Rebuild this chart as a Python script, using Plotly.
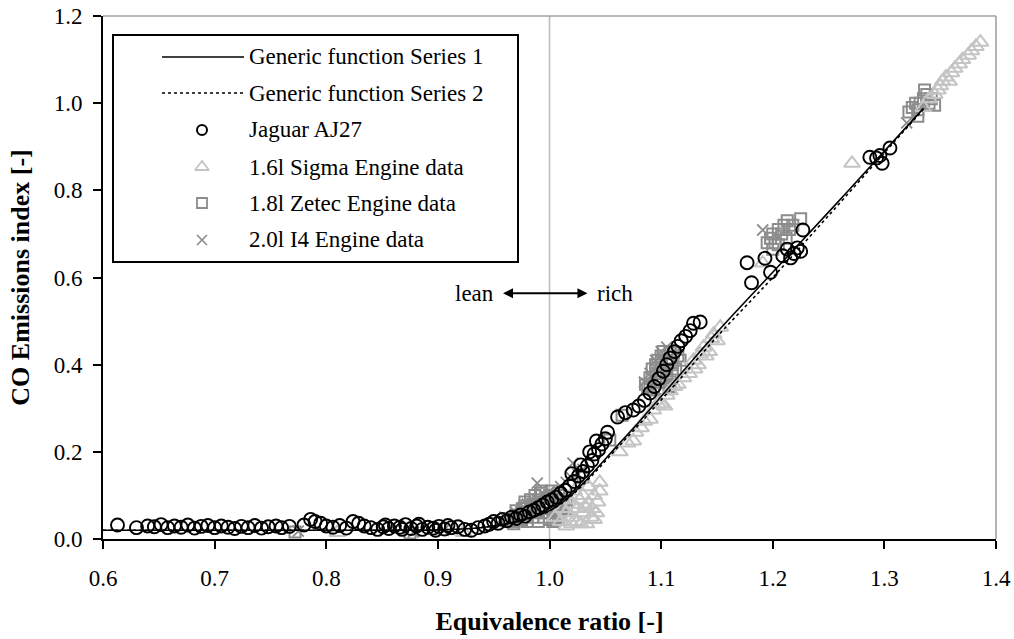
import plotly.graph_objects as go

# ---------------- data ----------------
line_phi = [0.60, 0.65, 0.70, 0.75, 0.80, 0.85, 0.90, 0.93, 0.95, 0.97, 0.98, 0.99, 1.00,
            1.02, 1.04, 1.06, 1.08, 1.10, 1.12, 1.15, 1.20, 1.25, 1.30, 1.335]
series1 = [0.020, 0.020, 0.020, 0.020, 0.020, 0.020, 0.021, 0.024, 0.030, 0.040, 0.047, 0.055, 0.065,
           0.102, 0.155, 0.212, 0.268, 0.327, 0.386, 0.474, 0.612, 0.750, 0.890, 0.988]
series2 = [0.020, 0.020, 0.020, 0.020, 0.020, 0.020, 0.021, 0.024, 0.030, 0.039, 0.046, 0.054, 0.064,
           0.100, 0.151, 0.207, 0.262, 0.319, 0.376, 0.464, 0.600, 0.742, 0.886, 0.986]

jag_phi = [0.613, 0.630, 0.640, 0.646, 0.652, 0.658, 0.664, 0.670, 0.676, 0.682, 0.688, 0.694, 0.700,
           0.706, 0.712, 0.718, 0.724, 0.730, 0.736, 0.742, 0.748, 0.755, 0.760, 0.767, 0.780, 0.786,
           0.790, 0.795, 0.800, 0.806, 0.812, 0.818, 0.824, 0.829, 0.834, 0.840, 0.846, 0.851, 0.856,
           0.861, 0.866, 0.871, 0.876, 0.881, 0.886, 0.891, 0.896, 0.901, 0.906, 0.912, 0.918, 0.924,
           0.930, 0.936, 0.942, 0.853, 0.868, 0.883, 0.898, 0.909,
           0.946, 0.950, 0.954, 0.958, 0.962, 0.966, 0.970, 0.974, 0.978, 0.982, 0.986, 0.990, 0.994,
           0.998, 1.002, 1.006, 1.010, 1.014, 1.018, 1.022, 1.026, 1.030, 1.034, 1.038, 1.040, 1.044,
           1.047, 1.050, 1.052, 1.036, 1.042, 1.028, 1.020,
           1.061, 1.068, 1.075, 1.080, 1.085, 1.090, 1.094, 1.098, 1.102, 1.105, 1.108, 1.112, 1.115,
           1.118, 1.122, 1.126, 1.129, 1.135,
           1.177, 1.181, 1.193, 1.198, 1.209, 1.213, 1.216, 1.219, 1.222, 1.225, 1.227,
           1.287, 1.293, 1.298, 1.296, 1.305]
jag_co = [0.032, 0.026, 0.030, 0.028, 0.033, 0.026, 0.030, 0.027, 0.032, 0.025, 0.029, 0.031, 0.026,
          0.030, 0.027, 0.024, 0.029, 0.026, 0.031, 0.025, 0.028, 0.030, 0.026, 0.029, 0.032, 0.045,
          0.040, 0.036, 0.030, 0.027, 0.031, 0.025, 0.040, 0.036, 0.030, 0.026, 0.022, 0.028, 0.024,
          0.030, 0.027, 0.033, 0.024, 0.030, 0.022, 0.027, 0.025, 0.029, 0.023, 0.026, 0.028, 0.022,
          0.020, 0.026, 0.030, 0.032, 0.022, 0.034, 0.020, 0.031,
          0.034, 0.040, 0.036, 0.045, 0.042, 0.050, 0.047, 0.055, 0.052, 0.062, 0.066, 0.072, 0.078,
          0.085, 0.090, 0.096, 0.105, 0.112, 0.122, 0.132, 0.145, 0.155, 0.168, 0.180, 0.195, 0.205,
          0.218, 0.230, 0.245, 0.200, 0.225, 0.170, 0.150,
          0.280, 0.290, 0.296, 0.305, 0.318, 0.335, 0.350, 0.368, 0.385, 0.400, 0.415, 0.430, 0.442,
          0.455, 0.465, 0.478, 0.495, 0.498,
          0.634, 0.588, 0.644, 0.612, 0.650, 0.665, 0.645, 0.655, 0.668, 0.660, 0.709,
          0.876, 0.874, 0.862, 0.880, 0.897]

sig_phi = [0.810, 0.923,
           1.005, 1.010, 1.015, 1.020, 1.020, 1.025, 1.025, 1.030, 1.030, 1.035, 1.035, 1.040, 1.040,
           1.015, 1.045, 1.028, 1.038, 1.018, 1.022, 1.027, 1.032, 1.037, 1.042, 1.043, 1.045, 1.012,
           1.033, 1.020,
           1.063, 1.077, 1.093, 1.105, 1.120, 1.129, 1.138, 1.147, 1.153, 1.130, 1.140, 1.112, 1.100,
           1.085, 1.070, 1.075, 1.082, 1.090, 1.097, 1.103, 1.108, 1.115, 1.125, 1.133, 1.143, 1.150,
           1.145, 1.135,
           1.191, 1.271,
           1.335, 1.340, 1.345, 1.348, 1.350, 1.352, 1.355, 1.358, 1.360, 1.363, 1.367, 1.370, 1.375,
           1.378, 1.382, 1.386]
sig_co = [0.015, 0.015,
          0.050, 0.040, 0.060, 0.050, 0.080, 0.040, 0.070, 0.060, 0.100, 0.080, 0.120, 0.100, 0.045,
          0.030, 0.130, 0.035, 0.070, 0.090, 0.110, 0.090, 0.075, 0.050, 0.060, 0.085, 0.110, 0.070,
          0.035, 0.035,
          0.200, 0.245, 0.296, 0.330, 0.370, 0.410, 0.440, 0.470, 0.486, 0.390, 0.420, 0.350, 0.310,
          0.270, 0.220, 0.225, 0.255, 0.275, 0.310, 0.305, 0.340, 0.355, 0.380, 0.400, 0.430, 0.455,
          0.460, 0.425,
          0.633, 0.862,
          0.990, 1.010, 1.020, 1.030, 1.040, 1.050, 1.060, 1.050, 1.070, 1.080, 1.090, 1.100, 1.110,
          1.120, 1.130, 1.140]

zet_phi = [0.772, 0.875,
           0.970, 0.975, 0.980, 0.980, 0.985, 0.985, 0.990, 0.990, 0.995, 0.995, 1.000, 1.000, 1.000,
           1.005, 1.005, 1.010, 1.010, 1.015, 0.975, 0.990, 1.000, 1.005, 0.985, 0.995, 1.010, 0.968,
           0.978, 0.992, 1.012, 0.968, 0.972, 0.976, 0.980, 0.983, 0.987, 0.990, 0.993, 0.997, 1.002,
           1.008, 1.012, 1.015, 0.996, 1.003, 1.008, 0.978, 0.970,
           1.030, 1.054, 1.065,
           1.088, 1.090, 1.090, 1.095, 1.095, 1.095, 1.098, 1.100, 1.100, 1.100, 1.100, 1.105, 1.105,
           1.105, 1.108, 1.110, 1.110, 1.111, 1.115, 1.086, 1.092, 1.097, 1.102, 1.107, 1.113, 1.117,
           1.093, 1.103, 1.108,
           1.195, 1.198, 1.200, 1.202, 1.205, 1.208, 1.210, 1.212, 1.215, 1.218, 1.213, 1.225, 1.200,
           1.205,
           1.322, 1.325, 1.328, 1.330, 1.332, 1.335, 1.338, 1.340, 1.342, 1.336, 1.345, 1.330]
zet_co = [0.016, 0.014,
          0.050, 0.060, 0.055, 0.070, 0.050, 0.080, 0.060, 0.090, 0.070, 0.050, 0.060, 0.080, 0.100,
          0.070, 0.090, 0.060, 0.080, 0.070, 0.045, 0.040, 0.045, 0.050, 0.065, 0.085, 0.100, 0.040,
          0.075, 0.105, 0.090, 0.035, 0.055, 0.070, 0.040, 0.090, 0.100, 0.075, 0.110, 0.095, 0.110,
          0.105, 0.075, 0.090, 0.060, 0.040, 0.050, 0.085, 0.065,
          0.142, 0.227, 0.284,
          0.345, 0.350, 0.370, 0.360, 0.380, 0.400, 0.345, 0.360, 0.380, 0.400, 0.420, 0.370, 0.390,
          0.410, 0.430, 0.380, 0.400, 0.427, 0.420, 0.355, 0.390, 0.410, 0.430, 0.350, 0.390, 0.410,
          0.342, 0.345, 0.360,
          0.680, 0.690, 0.700, 0.680, 0.710, 0.700, 0.720, 0.690, 0.710, 0.720, 0.730, 0.735, 0.665,
          0.675,
          0.980, 0.990, 1.000, 0.985, 1.000, 1.010, 1.020, 1.000, 1.010, 1.030, 0.995, 0.970]

i4_phi = [0.775, 0.878, 0.905,
          0.956, 0.960, 0.970, 0.975, 0.980, 0.989, 0.990, 0.995, 1.000, 1.000, 1.005, 1.010, 1.015,
          1.021, 1.020, 1.025, 1.030,
          1.085, 1.090, 1.095, 1.100, 1.105,
          1.191, 1.320]
i4_co = [0.018, 0.016, 0.020,
         0.044, 0.050, 0.060, 0.070, 0.080, 0.128, 0.090, 0.100, 0.090, 0.110, 0.100, 0.120, 0.130,
         0.174, 0.140, 0.150, 0.160,
         0.360, 0.380, 0.410, 0.430, 0.440,
         0.709, 0.955]

legend_labels = ["Generic function Series 1", "Generic function Series 2", "Jaguar AJ27",
                 "1.6l Sigma Engine data", "1.8l Zetec Engine data", "2.0l I4 Engine data"]

x_ticks = [0.6, 0.7, 0.8, 0.9, 1.0, 1.1, 1.2, 1.3, 1.4]
y_ticks = [0.0, 0.2, 0.4, 0.6, 0.8, 1.0, 1.2]

# ---------------- style ----------------
FONT = "Liberation Serif"
C_SIG = "#c4c4c4"
C_ZET = "#8c8c8c"
C_I4 = "#8c8c8c"

W, H = 1014, 639
PL, PR, PT, PB = 103, 996, 16, 539          # plot area in page pixels
L, R, T, B = PL, W - PR, PT, H - PB
PW, PH = PR - PL, PB - PT


def px(xp):
    return (xp - PL) / PW


def py(yp):
    return (PB - yp) / PH


fig = go.Figure()

fig.add_trace(go.Scatter(x=zet_phi, y=zet_co, mode="markers", showlegend=False,
                         marker=dict(symbol="square-open", size=11, color=C_ZET, line=dict(width=2, color=C_ZET))))
fig.add_trace(go.Scatter(x=i4_phi, y=i4_co, mode="markers", showlegend=False,
                         marker=dict(symbol="x-thin-open", size=11, color=C_I4, line=dict(width=1.8, color=C_I4))))
fig.add_trace(go.Scatter(x=sig_phi, y=sig_co, mode="markers", showlegend=False,
                         marker=dict(symbol="triangle-up-open", size=14, color=C_SIG, line=dict(width=2, color=C_SIG))))
fig.add_trace(go.Scatter(x=jag_phi, y=jag_co, mode="markers", showlegend=False,
                         marker=dict(symbol="circle-open", size=13, color="black", line=dict(width=1.9, color="black"))))
fig.add_trace(go.Scatter(x=line_phi, y=series1, mode="lines", showlegend=False,
                         line=dict(color="black", width=1.6), line_shape="spline"))
fig.add_trace(go.Scatter(x=line_phi, y=series2, mode="lines", showlegend=False,
                         line=dict(color="black", width=1.6, dash="3px,3px"), line_shape="spline"))

# ---- manual legend (overlay axes in paper units) ----
lx0, lx1 = px(162), px(244)
sym_x = px(202)
txt_x = px(247)
rows = [py(57), py(93), py(130), py(167), py(203), py(240)]

fig.add_trace(go.Scatter(x=[lx0, lx1], y=[rows[0], rows[0]], xaxis="x2", yaxis="y2", mode="lines",
                         showlegend=False, hoverinfo="skip", line=dict(color="black", width=1.6)))
fig.add_trace(go.Scatter(x=[lx0, lx1], y=[rows[1], rows[1]], xaxis="x2", yaxis="y2", mode="lines",
                         showlegend=False, hoverinfo="skip", line=dict(color="black", width=1.6, dash="3px,3px")))
fig.add_trace(go.Scatter(x=[sym_x], y=[rows[2]], xaxis="x2", yaxis="y2", mode="markers", showlegend=False,
                         hoverinfo="skip",
                         marker=dict(symbol="circle-open", size=10, color="black", line=dict(width=2, color="black"))))
fig.add_trace(go.Scatter(x=[sym_x], y=[rows[3]], xaxis="x2", yaxis="y2", mode="markers", showlegend=False,
                         hoverinfo="skip",
                         marker=dict(symbol="triangle-up-open", size=12, color=C_SIG, line=dict(width=1.8, color=C_SIG))))
fig.add_trace(go.Scatter(x=[sym_x], y=[rows[4]], xaxis="x2", yaxis="y2", mode="markers", showlegend=False,
                         hoverinfo="skip",
                         marker=dict(symbol="square-open", size=10, color=C_ZET, line=dict(width=1.8, color=C_ZET))))
fig.add_trace(go.Scatter(x=[sym_x], y=[rows[5]], xaxis="x2", yaxis="y2", mode="markers", showlegend=False,
                         hoverinfo="skip",
                         marker=dict(symbol="x-thin-open", size=10, color=C_I4, line=dict(width=1.6, color=C_I4))))

annotations = []
for lab, ry in zip(legend_labels, rows):
    annotations.append(dict(x=txt_x, y=ry, xref="paper", yref="paper", text=lab, showarrow=False,
                            xanchor="left", yanchor="middle", font=dict(family=FONT, size=23, color="black")))

# lean / rich
annotations.append(dict(x=0.933, y=0.564, xref="x", yref="y", text="lean", showarrow=False,
                        font=dict(family=FONT, size=23, color="black")))
annotations.append(dict(x=1.059, y=0.564, xref="x", yref="y", text="rich", showarrow=False,
                        font=dict(family=FONT, size=23, color="black")))
annotations.append(dict(x=1.034, y=0.564, ax=0.957, ay=0.564, xref="x", yref="y", axref="x", ayref="y",
                        text="", showarrow=True, arrowhead=2, arrowside="end+start", arrowwidth=2,
                        arrowsize=1, arrowcolor="black"))

shapes = [
    dict(type="line", xref="x", yref="y", x0=1.0, x1=1.0, y0=0, y1=1.2,
         line=dict(color="#bdbdbd", width=1.6), layer="below"),
    dict(type="line", xref="paper", yref="paper", x0=0, x1=1, y0=1, y1=1,
         line=dict(color="#a0a0a0", width=1.6)),
    dict(type="line", xref="paper", yref="paper", x0=1, x1=1, y0=0, y1=1,
         line=dict(color="#a0a0a0", width=1.6)),
    dict(type="rect", xref="paper", yref="paper", x0=px(113), x1=px(518), y0=py(262), y1=py(35),
         line=dict(color="black", width=2), fillcolor="white", layer="below"),
]

fig.update_layout(
    width=W, height=H,
    margin=dict(l=L, r=R, t=T, b=B, autoexpand=False),
    paper_bgcolor="white", plot_bgcolor="white",
    font=dict(family=FONT, size=23, color="black"),
    xaxis=dict(range=[0.6, 1.4], tickvals=x_ticks, ticktext=[f"{v:.1f}" for v in x_ticks],
               ticks="outside", ticklen=8, tickwidth=2, tickcolor="black",
               showline=True, linecolor="black", linewidth=2, showgrid=False, zeroline=False,
               ticklabelstandoff=9, ticklabeloverflow="allow",
               title=dict(text="<b>Equivalence ratio [-]</b>", font=dict(family=FONT, size=26), standoff=22)),
    yaxis=dict(range=[0, 1.2], tickvals=y_ticks, ticktext=[f"{v:.1f}" for v in y_ticks],
               ticks="outside", ticklen=8, tickwidth=2, tickcolor="black",
               showline=True, linecolor="black", linewidth=2, showgrid=False, zeroline=False,
               ticklabelstandoff=6, ticklabeloverflow="allow",
               title=dict(text="<b>CO Emissions index [-]</b>", font=dict(family=FONT, size=26), standoff=17)),
    xaxis2=dict(overlaying="x", range=[0, 1], visible=False, fixedrange=True),
    yaxis2=dict(overlaying="y", range=[0, 1], visible=False, fixedrange=True),
    annotations=annotations,
    shapes=shapes,
    showlegend=False,
)

fig.write_html("out.html",
               config={"displayModeBar": False},
               post_script="document.body.style.margin='0';document.body.style.overflow='hidden';")
